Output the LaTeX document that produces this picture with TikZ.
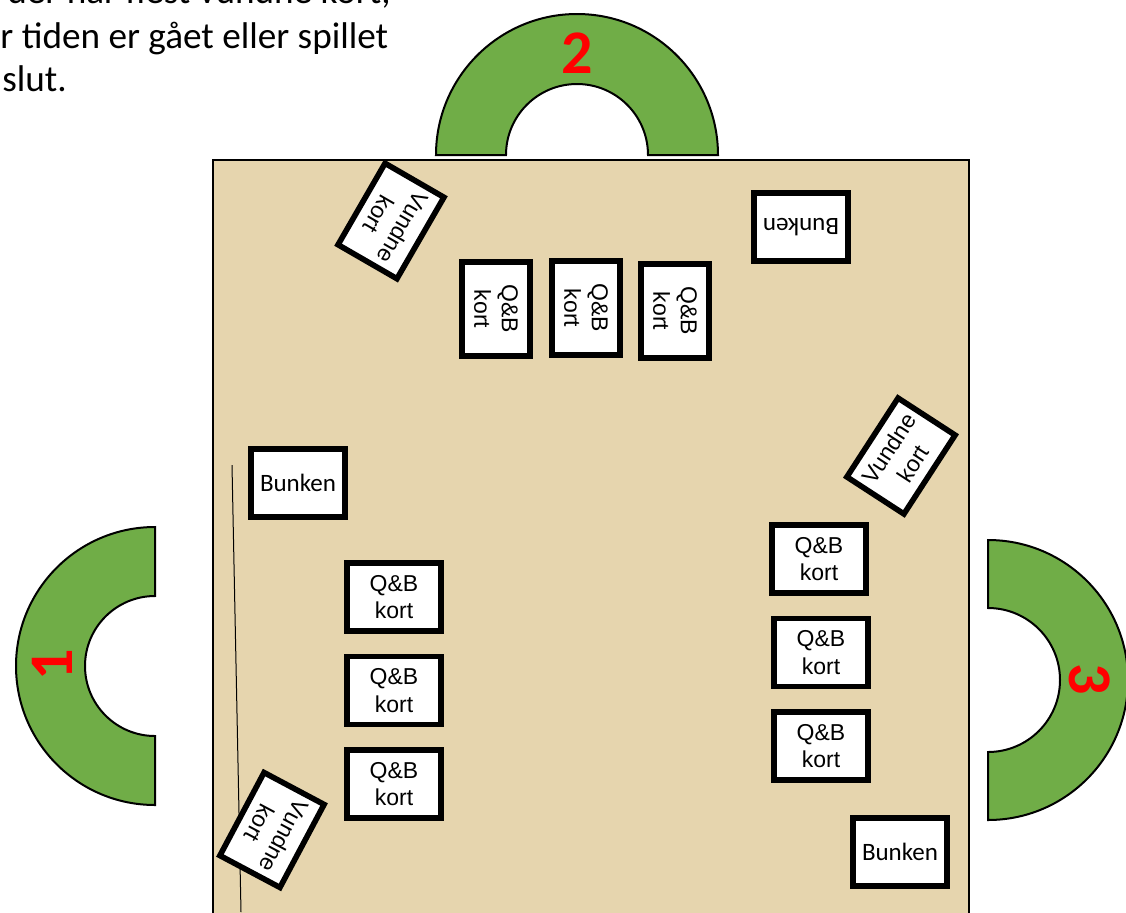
\documentclass[tikz,border=0pt]{standalone}
\usepackage{fontspec}
\setmainfont{Carlito}
\newfontfamily\arialfont{Liberation Sans}
\usetikzlibrary{positioning}
\definecolor{tablesand}{RGB}{230,213,174}
\definecolor{seatgreen}{RGB}{112,173,71}
\definecolor{seatred}{RGB}{255,0,0}

\begin{document}
\begin{tikzpicture}[
    x=0.5pt, y=-0.5pt,
    card/.style={draw=black, fill=white, line width=2.8pt, minimum width=47pt, minimum height=34pt, inner sep=0pt, align=center},
    qbcard/.style={card, font=\arialfont\fontsize{11.5}{13.8}\selectfont},
    woncard/.style={card, font=\arialfont\fontsize{11.5}{13.8}\selectfont},
    pilecard/.style={card, font=\fontsize{12.5}{15}\selectfont},
    seat/.style={draw=black, fill=seatgreen, line width=1pt},
    seatno/.style={text=seatred, font=\bfseries\fontsize{31}{31}\selectfont, inner sep=0pt},
    intro/.style={anchor=base west, inner sep=0pt, font=\fontsize{18.6}{22}\selectfont}
  ]
  \path[use as bounding box, clip] (0,0) rectangle (1126,912);

  % Rules text (top left, cut off)
  \node[intro] (intro1) at (7,3) {der har flest vundne kort,};
  \node[intro] (intro2) at (0,48) {r tiden er gået eller spillet};
  \node[intro] (intro3) at (2,91) {slut.};

  % Table
  \draw[fill=tablesand, line width=1pt] (213,160) rectangle (969,940);
  \draw[line width=0.5pt] (232,465) -- (241,912);

  % Seats
  \draw[seat] (436,155) arc[start angle=180, end angle=360, radius=141]
    -- (648,155) arc[start angle=360, end angle=180, radius=71] -- cycle;
  \draw[seat] (155,527) arc[start angle=270, end angle=90, radius=139]
    -- (155,736) arc[start angle=90, end angle=270, radius=70] -- cycle;
  \draw[seat] (988,540) arc[start angle=-90, end angle=90, radius=140]
    -- (988,752) arc[start angle=90, end angle=-90, radius=72] -- cycle;
  \node[seatno] (seat2no) at (577,53) {2};
  \node[seatno, rotate=90] (seat1no) at (52,665) {1};
  \node[seatno, rotate=-90] (seat3no) at (1090,679) {3};

  % Player 2 (top)
  \node[woncard, rotate=-120] (won2) at (391,221) {Vundne\\kort};
  \node[pilecard, rotate=180] (pile2) at (801,227) {Bunken};
  \node[qbcard, rotate=-90] (qb2a) at (496,309) {Q\&B\\kort};
  \node[qbcard, rotate=-90] (qb2b) at (586,308) {Q\&B\\kort};
  \node[qbcard, rotate=-90] (qb2c) at (675,311) {Q\&B\\kort};

  % Player 1 (left)
  \node[pilecard] (pile1) at (298,483) {Bunken};
  \node[qbcard] (qb1a) at (394,597) {Q\&B\\kort};
  \node[qbcard, below=10pt of qb1a] (qb1b) {Q\&B\\kort};
  \node[qbcard, below=10pt of qb1b] (qb1c) {Q\&B\\kort};
  \node[woncard, rotate=-118] (won1) at (272,830) {Vundne\\kort};

  % Player 3 (right)
  \node[woncard, rotate=57] (won3) at (901,456) {Vundne\\kort};
  \node[qbcard] (qb3a) at (819,559) {Q\&B\\kort};
  \node[qbcard, below=10pt of qb3a, xshift=1pt] (qb3b) {Q\&B\\kort};
  \node[qbcard, below=10pt of qb3b] (qb3c) {Q\&B\\kort};
  \node[pilecard] (pile3) at (900,852) {Bunken};
\end{tikzpicture}
\end{document}
